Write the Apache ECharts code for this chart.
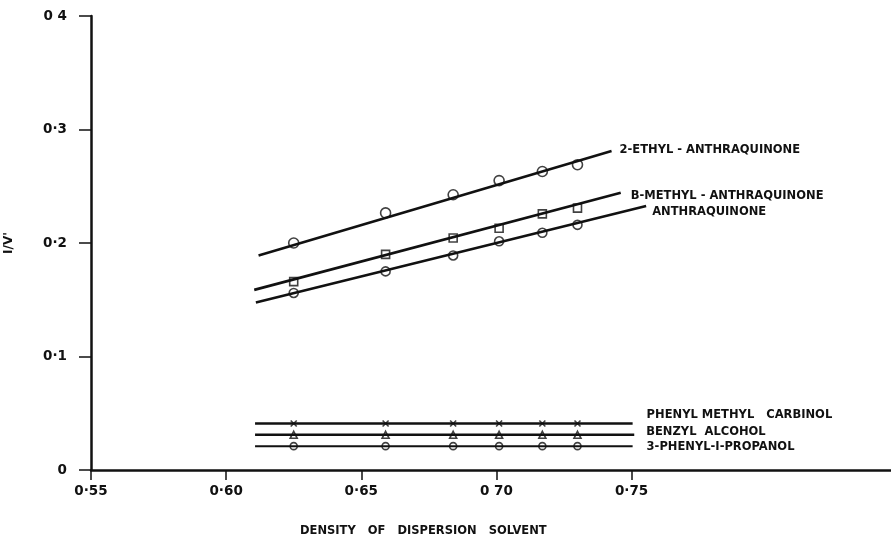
<!DOCTYPE html>
<html><head><meta charset="utf-8">
<script src="https://cdn.jsdelivr.net/npm/echarts@6/dist/echarts.min.js"></script>
<style>html,body{margin:0;padding:0;background:#fff}#c{width:891px;height:540px}</style>
</head><body><div id="c"></div>
<script>
// ---- data ----
const density = [0.625, 0.659, 0.684, 0.701, 0.717, 0.730];
const ethylAnthraquinone  = [0.200, 0.2265, 0.2425, 0.255, 0.263, 0.269];
const methylAnthraquinone = [0.166, 0.190, 0.2044, 0.213, 0.2257, 0.2307];
const anthraquinone       = [0.156, 0.175, 0.189, 0.2015, 0.209, 0.216];
const phenylMethylCarbinol = [0.041, 0.041, 0.041, 0.041, 0.041, 0.041];
const benzylAlcohol        = [0.031, 0.031, 0.031, 0.031, 0.031, 0.031];
const phenylPropanol       = [0.021, 0.021, 0.021, 0.021, 0.021, 0.021];

// fitted straight lines: [start, end] as [density, 1/V']
const ethylFit    = [[0.612, 0.189], [0.7426, 0.281]];
const methylFit   = [[0.6104, 0.1587], [0.746, 0.2442]];
const anthraFit   = [[0.611, 0.1475], [0.7554, 0.2325]];
const carbinolFit = [[0.6107, 0.041], [0.7504, 0.041]];
const benzylFit   = [[0.6107, 0.031], [0.751, 0.031]];
const propanolFit = [[0.6107, 0.021], [0.7504, 0.021]];

const seriesNames = ['2-ETHYL - ANTHRAQUINONE', 'B-METHYL - ANTHRAQUINONE', 'ANTHRAQUINONE',
  'PHENYL METHYL   CARBINOL', 'BENZYL  ALCOHOL', '3-PHENYL-I-PROPANOL'];

const xTickValues = [0.55, 0.60, 0.65, 0.70, 0.75];
const xTickLabels = ['0·55', '0·60', '0·65', '0 70', '0·75'];
const yTickValues = [0, 0.1, 0.2, 0.3, 0.4];
const yTickLabels = ['0', '0·1', '0·2', '0·3', '0 4'];
const xTitle = 'DENSITY   OF   DISPERSION   SOLVENT';
const yTitle = "I/V'";

// ---- styling ----
const INK = '#111';
const FONT = 'DejaVu Sans';
const crossPath = 'path://M0,0L10,10M10,0L0,10';

function group(name, values, fit, symbol, size, lw, labelOffset) {
  return [
    {
      type: 'line', name: name, data: fit, showSymbol: false, symbol: 'none',
      lineStyle: { color: INK, width: lw }, z: 2, silent: true,
      endLabel: { show: true, formatter: name, distance: 0, offset: labelOffset,
        color: INK, fontFamily: FONT, fontSize: 11.5, fontWeight: 'bold' }
    },
    {
      type: 'scatter', name: name + ' pts',
      data: density.map((d, i) => [d, values[i]]),
      symbol: symbol, symbolSize: size, z: 3,
      itemStyle: { color: 'rgba(0,0,0,0)', borderColor: INK, borderWidth: 1.6 }
    }
  ];
}

const chart = echarts.init(document.getElementById('c'), null, { renderer: 'canvas' });
chart.setOption({
  animation: false,
  backgroundColor: '#fff',
  grid: { left: 91, right: 0, top: 16, bottom: 70, containLabel: false, outerBoundsMode: 'none' },
  xAxis: {
    type: 'value', min: 0.55, max: 0.846,
    axisLine: { show: true, onZero: false, lineStyle: { color: INK, width: 2.5 } },
    axisTick: { show: true, customValues: xTickValues, length: 10, lineStyle: { color: INK, width: 1.5 } },
    axisLabel: { customValues: xTickValues, margin: 14, color: INK, fontFamily: FONT, fontSize: 13.5, fontWeight: 'bold',
      formatter: v => { const i = xTickValues.findIndex(t => Math.abs(t - v) < 1e-6); return i >= 0 ? xTickLabels[i] : ''; } },
    splitLine: { show: false }
  },
  yAxis: {
    type: 'value', min: 0, max: 0.4, interval: 0.1,
    name: yTitle, nameLocation: 'middle', nameGap: 76, nameRotate: 90,
    nameTextStyle: { color: INK, fontFamily: FONT, fontSize: 12, fontWeight: 'bold' },
    axisLine: { show: true, onZero: false, lineStyle: { color: INK, width: 2.5 } },
    axisTick: { show: true, length: 12, lineStyle: { color: INK, width: 1.5 } },
    axisLabel: { margin: 24, color: INK, fontFamily: FONT, fontSize: 13.5, fontWeight: 'bold',
      formatter: v => { const i = yTickValues.findIndex(t => Math.abs(t - v) < 1e-6); return i >= 0 ? yTickLabels[i] : ''; } },
    splitLine: { show: false }
  },
  graphic: [{
    type: 'text', left: 300, top: 525,
    style: { text: xTitle, fill: INK, font: 'bold 11.5px "DejaVu Sans"' }
  }],
  series: [
    ...group(seriesNames[0], ethylAnthraquinone, ethylFit, 'circle', 10, 2.6, [8, -1]),
    ...group(seriesNames[1], methylAnthraquinone, methylFit, 'rect', 8, 2.6, [10, 3]),
    ...group(seriesNames[2], anthraquinone, anthraFit, 'circle', 9, 2.6, [6, 6]),
    ...group(seriesNames[3], phenylMethylCarbinol, carbinolFit, crossPath, 6, 2.4, [14, -8]),
    ...group(seriesNames[4], benzylAlcohol, benzylFit, 'triangle', 7, 2.4, [12, -3]),
    ...group(seriesNames[5], phenylPropanol, propanolFit, 'circle', 7, 2, [14, 1])
  ]
});
</script></body></html>
